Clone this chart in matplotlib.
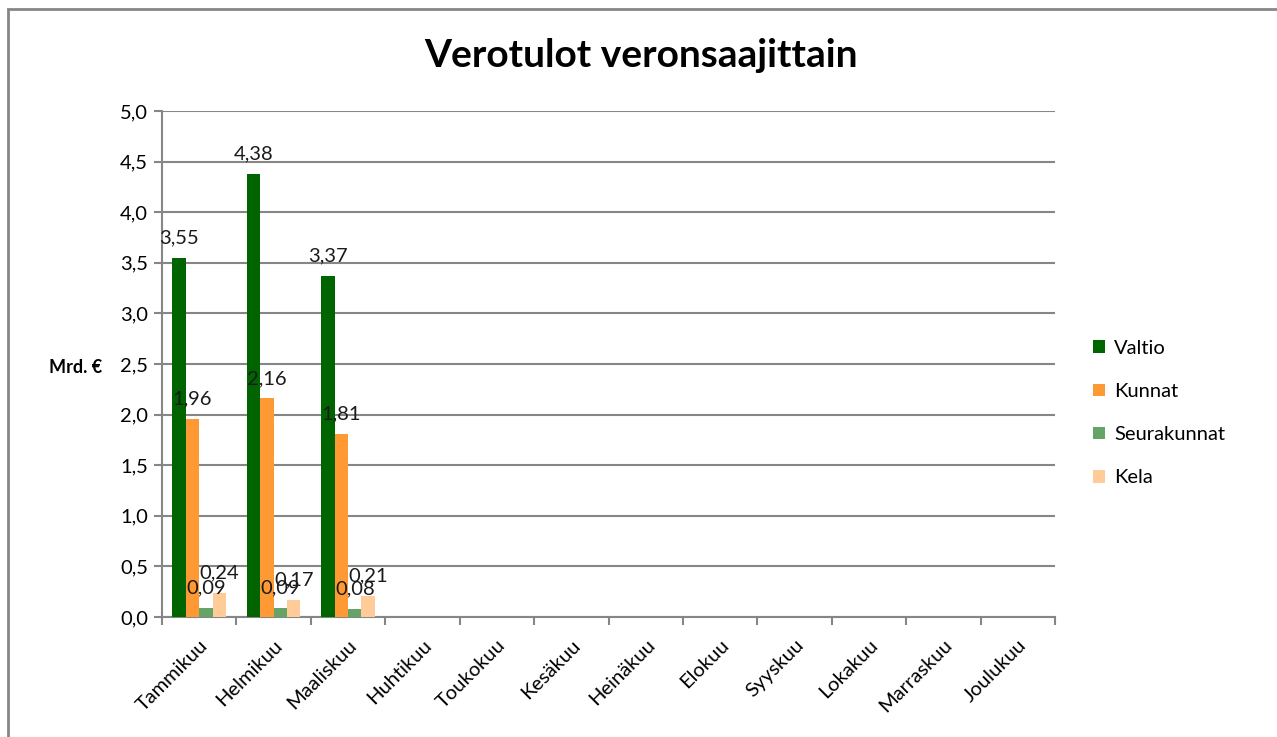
import numpy as np
import matplotlib.pyplot as plt
from matplotlib.patches import Rectangle

plt.rcParams['font.family'] = ['Lato', 'DejaVu Sans']

# kuukaudet ja sarjat (Mrd. €)
kuukaudet = ['Tammikuu', 'Helmikuu', 'Maaliskuu', 'Huhtikuu', 'Toukokuu', 'Kesäkuu',
             'Heinäkuu', 'Elokuu', 'Syyskuu', 'Lokakuu', 'Marraskuu', 'Joulukuu']
valtio = [3.55, 4.38, 3.37]
kunnat = [1.96, 2.16, 1.81]
seurakunnat = [0.09, 0.09, 0.08]
kela = [0.24, 0.17, 0.21]

sarjat = ['Valtio', 'Kunnat', 'Seurakunnat', 'Kela']
arvot = [valtio, kunnat, seurakunnat, kela]
varit = ['#006400', '#FF9933', '#66A366', '#FFCC99']

fig = plt.figure(figsize=(12.77, 7.37), dpi=100)
ax = fig.add_axes([0.1269, 0.1628, 0.6993, 0.6866])

grey = '#868686'
w = 0.18
for i, (nimi, v, c) in enumerate(zip(sarjat, arvot, varit)):
    x = np.arange(len(v)) + 0.5 + (i - 1.5) * w
    ax.bar(x, v, width=w, color=c, label=nimi, zorder=3)
    for xi, vi in zip(x, v):
        ax.text(xi, vi + 0.11, f'{vi:.2f}'.replace('.', ','), ha='center', va='bottom',
                fontsize=14.5, color='#1a1a1a', zorder=4)

ax.set_xlim(0, 12)
ax.set_ylim(0, 5)
yt = np.arange(0, 5.01, 0.5)
ax.set_yticks(yt)
ax.set_yticklabels([f'{t:.1f}'.replace('.', ',') for t in yt], fontsize=14.5)
ax.yaxis.grid(True, color=grey, linewidth=1.5, zorder=0)

ax.set_xticks(np.arange(0, 13))
ax.set_xticklabels([])
ax.set_xticks(np.arange(12) + 0.5, minor=True)
ax.set_xticklabels(kuukaudet, minor=True, rotation=45, ha='right', va='top',
                   rotation_mode='anchor', fontsize=14.5)
ax.tick_params(axis='x', which='minor', length=0, pad=14)
ax.tick_params(axis='x', which='major', length=6, color=grey, width=1.5)
ax.tick_params(axis='y', length=6, color=grey, width=1.5, pad=4)

for s in ['top', 'right']:
    ax.spines[s].set_visible(False)
for s in ['left', 'bottom']:
    ax.spines[s].set_color(grey)
    ax.spines[s].set_linewidth(1.5)

fig.text(0.502, 0.925, 'Verotulot veronsaajittain', ha='center', va='center',
         fontsize=28, fontweight='bold')
fig.text(0.080, 0.502, 'Mrd. €', ha='right', va='center', fontsize=13, fontweight='bold')

leg = ax.legend(loc='center left', bbox_to_anchor=(1.022, 0.403), frameon=False,
                fontsize=14.5, handlelength=0.6, handleheight=0.6, handletextpad=0.45,
                labelspacing=1.3)

fig.patches.append(Rectangle((8 / 1277, -0.1), 1.2, 1 - 9 / 737 + 0.1,
                             transform=fig.transFigure, fill=False,
                             edgecolor=grey, linewidth=2))

fig.savefig('out.png', dpi=100)
